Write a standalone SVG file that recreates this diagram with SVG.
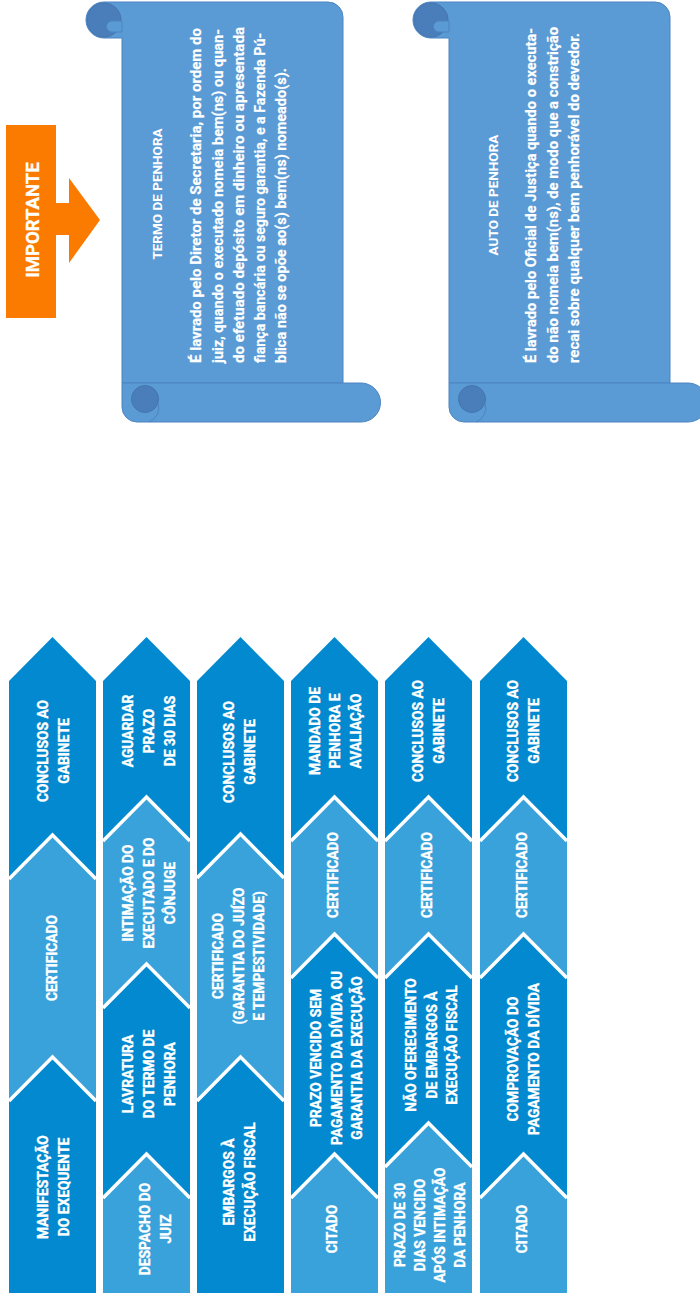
<svg xmlns="http://www.w3.org/2000/svg" xmlns:xlink="http://www.w3.org/1999/xlink" width="700" height="1299" viewBox="0 0 700 1299">
<style>
.dk{fill:#0289CF}
.lt{fill:#3AA2DB}
.edge{fill:none;stroke:#fff;stroke-width:3.5;stroke-linejoin:miter}
.lbl{font-family:Roboto,"Liberation Sans",sans-serif;font-weight:700;font-size:13.8px;fill:#fff;stroke:#fff;stroke-width:0.35;text-anchor:middle}
.sc{fill:#5B9BD5;stroke:#4C84C0;stroke-width:1}
.scd{fill:#4A7EBB;stroke:#4475AE;stroke-width:1}
.sct{font-family:Roboto,"Liberation Sans",sans-serif;font-weight:700;font-size:14px;fill:#fff;stroke:#fff;stroke-width:0.2}
.sctt{font-family:Roboto,"Liberation Sans",sans-serif;font-weight:700;font-size:13.5px;fill:#fff;text-anchor:middle}
.imp{fill:#FA7B00}
.impt{font-family:Roboto,"Liberation Sans",sans-serif;font-weight:700;font-size:18.5px;fill:#fff;stroke:#fff;stroke-width:0.3;text-anchor:middle}
</style>
<defs>
<g id="scrollShape">
<path class="sc" d="M104,2 H328 A15,15 0 0 1 343,17 V383 H122 V38 H104 A18,18 0 0 1 104,2 Z"/>
<circle class="scd" cx="104" cy="20" r="17"/>
<path class="sc" stroke="none" d="M122,21 H112 A5.5,5.5 0 0 0 112,32 H122 Z"/>
<path class="sc" d="M122,383 H361 A19.5,19.5 0 0 1 361,422 H137 A15,15 0 0 1 122,407 Z"/>
<circle class="scd" cx="145" cy="399" r="13.5"/>
<path fill="none" stroke="#4C84C0" stroke-width="1" d="M158,403 A15,15 0 0 1 149,422"/>
</g>
</defs>

<g id="importante">
<path class="imp" d="M6,125 H56 V203 H69 V178 L100,220 L69,263 V235 H56 V318 H6 Z"/>
<text class="impt" transform="translate(0,220) rotate(-90)" x="0" y="39">IMPORTANTE</text>
</g>

<g id="termo-de-penhora">
<use xlink:href="#scrollShape"/>
<text class="sctt" transform="translate(0,194) rotate(-90)" x="0" y="162">TERMO DE PENHORA</text>
<text class="sct" transform="translate(0,363) rotate(-90)" x="0" y="201" textLength="335" lengthAdjust="spacingAndGlyphs">É lavrado pelo Diretor de Secretaria, por ordem do</text>
<text class="sct" transform="translate(0,363) rotate(-90)" x="0" y="223" textLength="334" lengthAdjust="spacingAndGlyphs">juiz, quando o executado nomeia bem(ns) ou quan-</text>
<text class="sct" transform="translate(0,363) rotate(-90)" x="0" y="244" textLength="336" lengthAdjust="spacingAndGlyphs">do efetuado depósito em dinheiro ou apresentada</text>
<text class="sct" transform="translate(0,363) rotate(-90)" x="0" y="265" textLength="330" lengthAdjust="spacingAndGlyphs">fiança bancária ou seguro garantia, e a Fazenda Pú-</text>
<text class="sct" transform="translate(0,363) rotate(-90)" x="0" y="286" textLength="295" lengthAdjust="spacingAndGlyphs">blica não se opõe ao(s) bem(ns) nomeado(s).</text>
</g>

<g id="auto-de-penhora">
<use xlink:href="#scrollShape" transform="translate(327,0)"/>
<text class="sctt" transform="translate(0,195) rotate(-90)" x="0" y="498">AUTO DE PENHORA</text>
<text class="sct" transform="translate(0,363) rotate(-90)" x="0" y="536" textLength="335" lengthAdjust="spacingAndGlyphs">É lavrado pelo Oficial de Justiça quando o executa-</text>
<text class="sct" transform="translate(0,363) rotate(-90)" x="0" y="558" textLength="336" lengthAdjust="spacingAndGlyphs">do não nomeia bem(ns), de modo que a constrição</text>
<text class="sct" transform="translate(0,363) rotate(-90)" x="0" y="579" textLength="330" lengthAdjust="spacingAndGlyphs">recai sobre qualquer bem penhorável do devedor.</text>
</g>

<g id="connectors"></g>

<!-- Column 1 -->
<g id="c1-conclusos">
<path class="dk" d="M9,681 L52.5,637 L96,681 V1293 H9 Z"/>
<text class="lbl" transform="translate(0,751) rotate(-90)"><tspan x="0" y="48">CONCLUSOS AO</tspan><tspan x="0" y="69">GABINETE</tspan></text>
</g>
<g id="c1-certificado">
<path class="lt" d="M9,879 L52.5,835 L96,879 V1293 H9 Z"/>
<path class="edge" d="M9,879 L52.5,835 L96,879"/>
<text class="lbl" transform="translate(0,958) rotate(-90)"><tspan x="0" y="57">CERTIFICADO</tspan></text>
</g>
<g id="c1-manifestacao">
<path class="dk" d="M9,1101 L52.5,1057 L96,1101 V1293 H9 Z"/>
<path class="edge" d="M9,1101 L52.5,1057 L96,1101"/>
<text class="lbl" transform="translate(0,1187) rotate(-90)"><tspan x="0" y="48">MANIFESTAÇÃO</tspan><tspan x="0" y="69">DO EXEQUENTE</tspan></text>
</g>

<!-- Column 2 -->
<g id="c2-aguardar">
<path class="dk" d="M103,681 L146.5,637 L190,681 V1293 H103 Z"/>
<text class="lbl" transform="translate(0,731) rotate(-90)"><tspan x="0" y="133">AGUARDAR</tspan><tspan x="0" y="154">PRAZO</tspan><tspan x="0" y="175">DE 30 DIAS</tspan></text>
</g>
<g id="c2-intimacao">
<path class="lt" d="M103,841 L146.5,797 L190,841 V1293 H103 Z"/>
<path class="edge" d="M103,841 L146.5,797 L190,841"/>
<text class="lbl" transform="translate(0,893) rotate(-90)"><tspan x="0" y="133">INTIMAÇÃO DO</tspan><tspan x="0" y="154">EXECUTADO E DO</tspan><tspan x="0" y="175">CÔNJUGE</tspan></text>
</g>
<g id="c2-lavratura">
<path class="dk" d="M103,1008 L146.5,964 L190,1008 V1293 H103 Z"/>
<path class="edge" d="M103,1008 L146.5,964 L190,1008"/>
<text class="lbl" transform="translate(0,1074) rotate(-90)"><tspan x="0" y="133">LAVRATURA</tspan><tspan x="0" y="154">DO TERMO DE</tspan><tspan x="0" y="175">PENHORA</tspan></text>
</g>
<g id="c2-despacho">
<path class="lt" d="M103,1198 L146.5,1154 L190,1198 V1293 H103 Z"/>
<path class="edge" d="M103,1198 L146.5,1154 L190,1198"/>
<text class="lbl" transform="translate(0,1229) rotate(-90)"><tspan x="0" y="150">DESPACHO DO</tspan><tspan x="0" y="171">JUIZ</tspan></text>
</g>

<!-- Column 3 -->
<g id="c3-conclusos">
<path class="dk" d="M197,681 L240.5,637 L284,681 V1293 H197 Z"/>
<text class="lbl" transform="translate(0,752) rotate(-90)"><tspan x="0" y="234">CONCLUSOS AO</tspan><tspan x="0" y="255">GABINETE</tspan></text>
</g>
<g id="c3-certificado">
<path class="lt" d="M197,878 L240.5,834 L284,878 V1293 H197 Z"/>
<path class="edge" d="M197,878 L240.5,834 L284,878"/>
<text class="lbl" transform="translate(0,956) rotate(-90)"><tspan x="0" y="223">CERTIFICADO</tspan><tspan x="0" y="244">(GARANTIA DO JUÍZO</tspan><tspan x="0" y="264">E TEMPESTIVIDADE)</tspan></text>
</g>
<g id="c3-embargos">
<path class="dk" d="M197,1101 L240.5,1057 L284,1101 V1293 H197 Z"/>
<path class="edge" d="M197,1101 L240.5,1057 L284,1101"/>
<text class="lbl" transform="translate(0,1182) rotate(-90)"><tspan x="0" y="234">EMBARGOS À</tspan><tspan x="0" y="255">EXECUÇÃO FISCAL</tspan></text>
</g>

<!-- Column 4 -->
<g id="c4-mandado">
<path class="dk" d="M291,681 L334.5,637 L378,681 V1293 H291 Z"/>
<text class="lbl" transform="translate(0,731) rotate(-90)"><tspan x="0" y="320">MANDADO DE</tspan><tspan x="0" y="340">PENHORA E</tspan><tspan x="0" y="361">AVALIAÇÃO</tspan></text>
</g>
<g id="c4-certificado">
<path class="lt" d="M291,841 L334.5,797 L378,841 V1293 H291 Z"/>
<path class="edge" d="M291,841 L334.5,797 L378,841"/>
<text class="lbl" transform="translate(0,875) rotate(-90)"><tspan x="0" y="338">CERTIFICADO</tspan></text>
</g>
<g id="c4-prazo-vencido">
<path class="dk" d="M291,978 L334.5,934 L378,978 V1293 H291 Z"/>
<path class="edge" d="M291,978 L334.5,934 L378,978"/>
<text class="lbl" transform="translate(0,1058) rotate(-90)"><tspan x="0" y="321">PRAZO VENCIDO SEM</tspan><tspan x="0" y="342">PAGAMENTO DA DÍVIDA OU</tspan><tspan x="0" y="362">GARANTIA DA EXECUÇÃO</tspan></text>
</g>
<g id="c4-citado">
<path class="lt" d="M291,1198 L334.5,1154 L378,1198 V1293 H291 Z"/>
<path class="edge" d="M291,1198 L334.5,1154 L378,1198"/>
<text class="lbl" transform="translate(0,1229) rotate(-90)"><tspan x="0" y="337">CITADO</tspan></text>
</g>

<!-- Column 5 -->
<g id="c5-conclusos">
<path class="dk" d="M385,681 L428.5,637 L472,681 V1293 H385 Z"/>
<text class="lbl" transform="translate(0,731) rotate(-90)"><tspan x="0" y="423">CONCLUSOS AO</tspan><tspan x="0" y="444">GABINETE</tspan></text>
</g>
<g id="c5-certificado">
<path class="lt" d="M385,841 L428.5,797 L472,841 V1293 H385 Z"/>
<path class="edge" d="M385,841 L428.5,797 L472,841"/>
<text class="lbl" transform="translate(0,875) rotate(-90)"><tspan x="0" y="432">CERTIFICADO</tspan></text>
</g>
<g id="c5-nao-oferecimento">
<path class="dk" d="M385,978 L428.5,934 L472,978 V1293 H385 Z"/>
<path class="edge" d="M385,978 L428.5,934 L472,978"/>
<text class="lbl" transform="translate(0,1045) rotate(-90)"><tspan x="0" y="416">NÃO OFERECIMENTO</tspan><tspan x="0" y="437">DE EMBARGOS À</tspan><tspan x="0" y="457">EXECUÇÃO FISCAL</tspan></text>
</g>
<g id="c5-prazo-30">
<path class="lt" d="M385,1167 L428.5,1123 L472,1167 V1293 H385 Z"/>
<path class="edge" d="M385,1167 L428.5,1123 L472,1167"/>
<text class="lbl" transform="translate(0,1225) rotate(-90)"><tspan x="0" y="405">PRAZO DE 30</tspan><tspan x="0" y="425">DIAS VENCIDO</tspan><tspan x="0" y="445">APÓS INTIMAÇÃO</tspan><tspan x="0" y="465">DA PENHORA</tspan></text>
</g>

<!-- Column 6 -->
<g id="c6-conclusos">
<path class="dk" d="M480,681 L523.5,637 L567,681 V1293 H480 Z"/>
<text class="lbl" transform="translate(0,731) rotate(-90)"><tspan x="0" y="518">CONCLUSOS AO</tspan><tspan x="0" y="539">GABINETE</tspan></text>
</g>
<g id="c6-certificado">
<path class="lt" d="M480,841 L523.5,797 L567,841 V1293 H480 Z"/>
<path class="edge" d="M480,841 L523.5,797 L567,841"/>
<text class="lbl" transform="translate(0,875) rotate(-90)"><tspan x="0" y="527">CERTIFICADO</tspan></text>
</g>
<g id="c6-comprovacao">
<path class="dk" d="M480,978 L523.5,934 L567,978 V1293 H480 Z"/>
<path class="edge" d="M480,978 L523.5,934 L567,978"/>
<text class="lbl" transform="translate(0,1059) rotate(-90)"><tspan x="0" y="518">COMPROVAÇÃO DO</tspan><tspan x="0" y="539">PAGAMENTO DA DÍVIDA</tspan></text>
</g>
<g id="c6-citado">
<path class="lt" d="M480,1198 L523.5,1154 L567,1198 V1293 H480 Z"/>
<path class="edge" d="M480,1198 L523.5,1154 L567,1198"/>
<text class="lbl" transform="translate(0,1229) rotate(-90)"><tspan x="0" y="527">CITADO</tspan></text>
</g>
</svg>
